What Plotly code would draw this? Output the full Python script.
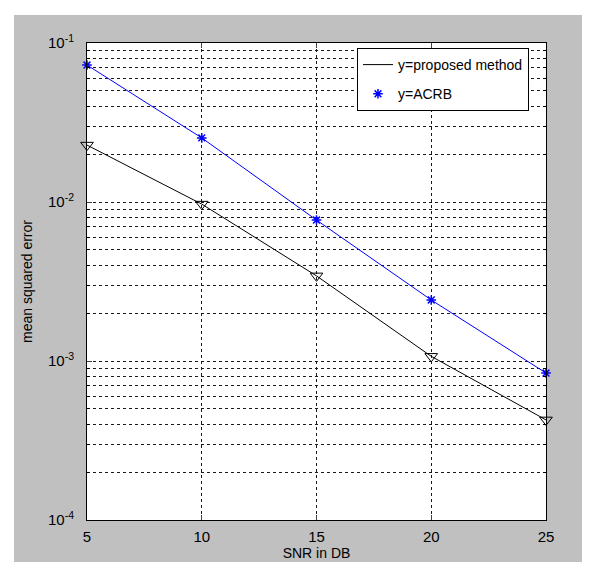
import plotly.graph_objects as go

snr = [5, 10, 15, 20, 25]
proposed = [0.0228, 0.0097, 0.00343, 0.00107, 0.000426]
acrb = [0.0727, 0.0253, 0.0077, 0.00242, 0.00084]

x_ticks = [5, 10, 15, 20, 25]
y_ticks = [1e-4, 1e-3, 1e-2, 1e-1]
y_ticktext = ["10<sup>-4</sup>", "10<sup>-3</sup>", "10<sup>-2</sup>", "10<sup>-1</sup>"]
y_minor = [m * 10.0 ** e for e in (-4, -3, -2) for m in range(2, 10)]

FONT = "Liberation Sans, Arial, sans-serif"
GRID = "#1a1a1a"

fig = go.Figure()
fig.add_trace(go.Scatter(x=snr, y=proposed, mode="lines", name="y=proposed method",
                         line=dict(color="black", width=1), legendgroup="a", cliponaxis=False))
fig.add_trace(go.Scatter(x=snr, y=acrb, mode="markers", name="y=ACRB",
                         marker=dict(symbol="asterisk-open", size=8, color="blue",
                                     line=dict(color="blue", width=1.5)),
                         legendgroup="b", cliponaxis=False))
fig.add_trace(go.Scatter(x=snr, y=acrb, mode="lines", showlegend=False,
                         line=dict(color="blue", width=1), cliponaxis=False))
fig.add_trace(go.Scatter(x=snr, y=proposed, mode="markers", showlegend=False,
                         marker=dict(symbol="triangle-down-open", size=11, color="black",
                                     line=dict(color="black", width=1)),
                         cliponaxis=False))

L, R, T, B = 79, 52, 35, 50
W, H = 590, 562
pw, ph = W - L - R, H - T - B

fig.update_layout(
    width=W, height=H,
    margin=dict(l=L, r=R, t=T, b=B, pad=0),
    paper_bgcolor="#c0c0c0",
    plot_bgcolor="white",
    font=dict(family=FONT, size=14, color="black"),
    showlegend=True,
    legend=dict(x=(349 - L) / pw, y=(H - B - 40) / ph, xanchor="left", yanchor="top",
                bgcolor="white", bordercolor="black", borderwidth=1,
                tracegroupgap=8, traceorder="grouped",
                font=dict(family=FONT, size=14)),
    xaxis=dict(range=[5, 25], tickvals=x_ticks, ticks="inside", ticklen=5,
               showline=True, linecolor="black", linewidth=1, mirror="allticks",
               showgrid=True, gridcolor=GRID, griddash="3px,3px", gridwidth=1,
               zeroline=False, ticklabelstandoff=3,
               title=dict(text="SNR in DB", standoff=3, font=dict(size=14)),
               tickfont=dict(size=15)),
    yaxis=dict(type="log", range=[-4, -1], tickvals=y_ticks, ticktext=y_ticktext,
               ticks="inside", ticklen=5,
               showline=True, linecolor="black", linewidth=1, mirror="allticks",
               showgrid=True, gridcolor=GRID, griddash="3px,3px", gridwidth=1,
               minor=dict(tickvals=y_minor, ticks="inside", ticklen=3, tickcolor="black",
                          showgrid=True, gridcolor=GRID, griddash="3px,3px", gridwidth=1),
               zeroline=False, ticklabelstandoff=9,
               title=dict(text="mean squared error", standoff=12, font=dict(size=14)),
               tickfont=dict(size=15)),
    shapes=[
        dict(type="rect", xref="paper", yref="paper", layer="above",
             x0=-L / pw - 0.05, x1=(6 - L) / pw, y0=-B / ph - 0.05, y1=(H - B) / ph + 0.05,
             fillcolor="white", line=dict(width=0)),
        dict(type="rect", xref="paper", yref="paper", layer="above",
             x0=-L / pw - 0.05, x1=(W - L) / pw + 0.05, y0=(H - B - 7) / ph, y1=(H - B) / ph + 0.05,
             fillcolor="white", line=dict(width=0)),
    ],
)

fig.write_html("out.html")
